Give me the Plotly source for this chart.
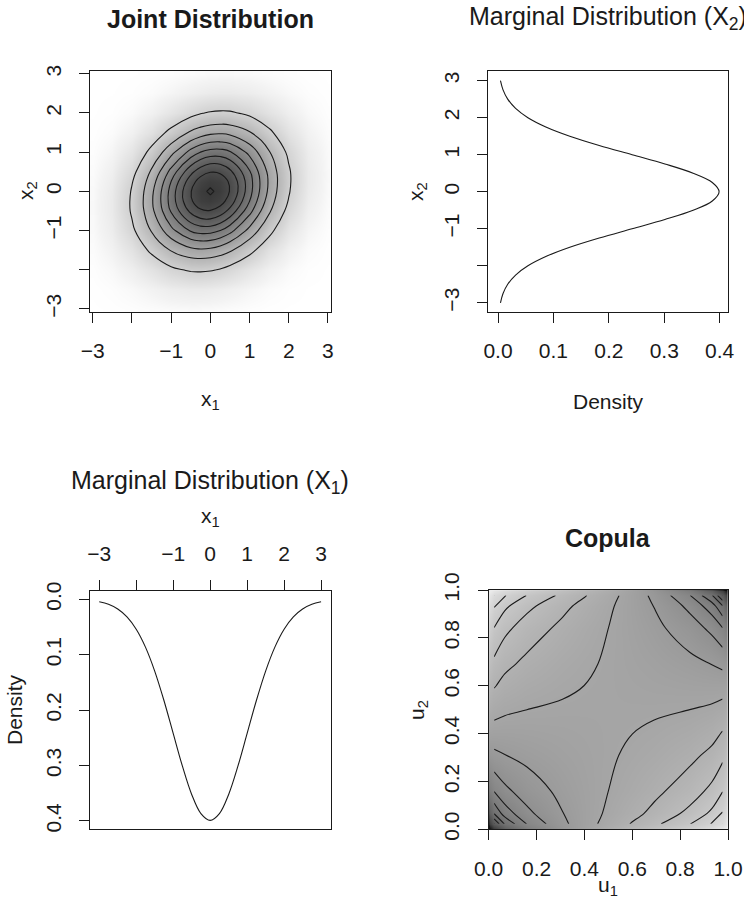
import numpy as np
import plotly.graph_objects as go

# ---------------- data ----------------
# grid of x values on which the joint density is tabulated (finer near the mode)
grid = [-3.0, -2.5, -2.0, -1.5, -1.0, -0.5, -0.25, 0.0, 0.25, 0.5, 1.0, 1.5, 2.0, 2.5, 3.0]

# joint density f(x1, x2); rows = x2 (grid order), columns = x1 (grid order)
joint_density = [
    [0.00006426, 0.0002084, 0.0005233, 0.001018, 0.001532, 0.001786, 0.001752, 0.001612, 0.001392, 0.001127, 0.0006101, 0.0002557, 0.00008299, 0.00002086, 0.000004059],
    [0.0002084, 0.0007022, 0.001832, 0.003702, 0.005792, 0.007017, 0.007017, 0.006582, 0.005792, 0.004781, 0.002689, 0.001171, 0.0003950, 0.0001031, 0.00002086],
    [0.0005233, 0.001832, 0.004968, 0.01043, 0.01696, 0.02135, 0.02176, 0.02081, 0.01866, 0.01570, 0.009178, 0.004154, 0.001456, 0.0003950, 0.00008299],
    [0.001018, 0.003702, 0.01043, 0.02275, 0.03844, 0.05028, 0.05225, 0.05093, 0.04657, 0.03994, 0.02426, 0.01141, 0.004154, 0.001171, 0.0002557],
    [0.001532, 0.005792, 0.01696, 0.03844, 0.06748, 0.09171, 0.09714, 0.09652, 0.08997, 0.07866, 0.04964, 0.02426, 0.009178, 0.002689, 0.0006101],
    [0.001786, 0.007017, 0.02135, 0.05028, 0.09171, 0.1295, 0.1399, 0.1417, 0.1346, 0.1200, 0.07866, 0.03994, 0.01570, 0.004781, 0.001127],
    [0.001752, 0.007017, 0.02176, 0.05225, 0.09714, 0.1399, 0.1525, 0.1559, 0.1496, 0.1346, 0.08997, 0.04657, 0.01866, 0.005792, 0.001392],
    [0.001612, 0.006582, 0.02081, 0.05093, 0.09652, 0.1417, 0.1559, 0.1610, 0.1559, 0.1417, 0.09652, 0.05093, 0.02081, 0.006582, 0.001612],
    [0.001392, 0.005792, 0.01866, 0.04657, 0.08997, 0.1346, 0.1496, 0.1559, 0.1525, 0.1399, 0.09714, 0.05225, 0.02176, 0.007017, 0.001752],
    [0.001127, 0.004781, 0.01570, 0.03994, 0.07866, 0.1200, 0.1346, 0.1417, 0.1399, 0.1295, 0.09171, 0.05028, 0.02135, 0.007017, 0.001786],
    [0.0006101, 0.002689, 0.009178, 0.02426, 0.04964, 0.07866, 0.08997, 0.09652, 0.09714, 0.09171, 0.06748, 0.03844, 0.01696, 0.005792, 0.001532],
    [0.0002557, 0.001171, 0.004154, 0.01141, 0.02426, 0.03994, 0.04657, 0.05093, 0.05225, 0.05028, 0.03844, 0.02275, 0.01043, 0.003702, 0.001018],
    [0.00008299, 0.0003950, 0.001456, 0.004154, 0.009178, 0.01570, 0.01866, 0.02081, 0.02176, 0.02135, 0.01696, 0.01043, 0.004968, 0.001832, 0.0005233],
    [0.00002086, 0.0001031, 0.0003950, 0.001171, 0.002689, 0.004781, 0.005792, 0.006582, 0.007017, 0.007017, 0.005792, 0.003702, 0.001832, 0.0007022, 0.0002084],
    [0.000004059, 0.00002086, 0.00008299, 0.0002557, 0.0006101, 0.001127, 0.001392, 0.001612, 0.001752, 0.001786, 0.001532, 0.001018, 0.0005233, 0.0002084, 0.00006426],
]

# marginal density curve (same for X1 and X2), quarter-unit steps
marg_x = [-3.0, -2.75, -2.5, -2.25, -2.0, -1.75, -1.5, -1.25, -1.0, -0.75, -0.5, -0.25,
          0.0, 0.25, 0.5, 0.75, 1.0, 1.25, 1.5, 1.75, 2.0, 2.25, 2.5, 2.75, 3.0]
marg_density = [0.0044318, 0.0090936, 0.017528, 0.031740, 0.053991, 0.086277, 0.12952,
                0.18265, 0.24197, 0.30114, 0.35207, 0.38667, 0.39894, 0.38667, 0.35207,
                0.30114, 0.24197, 0.18265, 0.12952, 0.086277, 0.053991, 0.031740,
                0.017528, 0.0090936, 0.0044318]

# u = F(x) at the grid points (probability-integral transform)
grid_u = [0.00135, 0.00621, 0.02275, 0.06681, 0.15866, 0.30854, 0.40129, 0.5,
          0.59871, 0.69146, 0.84134, 0.93319, 0.97725, 0.99379, 0.99865]

joint_levels = [0.0195, 0.0371, 0.0547, 0.0723, 0.0899, 0.1075, 0.1251, 0.1427, 0.1603]
copula_levels = [0.5, 0.6, 0.7, 0.8, 0.9, 1.0, 1.1, 1.2, 1.3, 1.4, 1.5, 1.6, 1.7]

# tick labels (the "-2" position carries a tick but no label, as in the original)
xy_tickvals = [-3, -1, 0, 1, 2, 3]
xy_ticktext = ["\u22123", "\u22121", "0", "1", "2", "3"]
xy_unlabelled = [-2]
dens_tickvals = [0.0, 0.1, 0.2, 0.3, 0.4]
dens_ticktext = ["0.0", "0.1", "0.2", "0.3", "0.4"]
u_tickvals = [0.0, 0.2, 0.4, 0.6, 0.8, 1.0]
u_ticktext = ["0.0", "0.2", "0.4", "0.6", "0.8", "1.0"]

# ---------------- derived tables ----------------
J = np.array(joint_density)
m_grid = np.array([marg_density[marg_x.index(g)] for g in grid])
cop = J / np.outer(m_grid, m_grid)              # copula density on the u-grid
radius_like = np.sqrt(np.log(J.max() / J))      # monotone transform for smooth contour lines
inner = slice(2, 13)                            # copula contours drawn on the inner grid only
u_in = grid_u[inner]
log_cop_in = np.log(cop[inner, inner])

W, H = 744, 908
FONT = "Liberation Sans, Arial, Helvetica, sans-serif"
INK = "#1a1a1a"

# grey ramp for the joint density image (white -> dark grey, slightly bowed)
joint_scale = [[0.0, "rgb(255,255,255)"], [0.02, "rgb(243,243,243)"],
               [0.05, "rgb(231,231,231)"], [0.1, "rgb(215,215,215)"],
               [0.2, "rgb(190,190,190)"], [0.35, "rgb(159,159,159)"],
               [0.5, "rgb(132,132,132)"], [0.7, "rgb(100,100,100)"],
               [0.85, "rgb(78,78,78)"], [1.0, "rgb(55,55,55)"]]

def px(x):
    return x / W

def py(y):
    return 1 - y / H

fig = go.Figure()

# ---- panel 1: joint distribution ----
fig.add_trace(go.Heatmap(x=grid, y=grid, z=joint_density, zsmooth="best",
                         colorscale=joint_scale,
                         zmin=0, zmax=0.161, showscale=False, hoverinfo="skip",
                         xaxis="x", yaxis="y"))
for k, L in enumerate(joint_levels):
    s = float(np.sqrt(np.log(J.max() / L)))
    fig.add_trace(go.Contour(x=grid, y=grid, z=radius_like,
                             contours=dict(start=s, end=s, size=1, coloring="none"),
                             line=dict(color=INK, width=1.1,
                                       smoothing=0 if k == len(joint_levels) - 1 else 1.3),
                             showscale=False, hoverinfo="skip", xaxis="x", yaxis="y"))

# ---- panel 2: marginal X2 ----
fig.add_trace(go.Scatter(x=marg_density, y=marg_x, mode="lines",
                         line=dict(color=INK, width=1.1, shape="spline"),
                         hoverinfo="skip", xaxis="x2", yaxis="y2"))

# ---- panel 3: marginal X1 ----
fig.add_trace(go.Scatter(x=marg_x, y=marg_density, mode="lines",
                         line=dict(color=INK, width=1.1, shape="spline"),
                         hoverinfo="skip", xaxis="x3", yaxis="y3"))

# ---- panel 4: copula ----
fig.add_trace(go.Heatmap(x=grid_u, y=grid_u, z=cop, zsmooth="best",
                         colorscale=[[0, "rgb(236,236,236)"], [1, "rgb(15,15,15)"]],
                         zmin=0.35, zmax=2.4, showscale=False, hoverinfo="skip",
                         xaxis="x4", yaxis="y4"))
for L in copula_levels:
    s = float(np.log(L))
    fig.add_trace(go.Contour(x=u_in, y=u_in, z=log_cop_in,
                             contours=dict(start=s, end=s, size=1, coloring="none"),
                             line=dict(color=INK, width=1.1, smoothing=1.0),
                             showscale=False, hoverinfo="skip", xaxis="x4", yaxis="y4"))

def axis(domain, rng, tickvals, ticktext, anchor, side=None, angle=0, extra=None):
    d = dict(domain=domain, range=rng, tickmode="array", tickvals=tickvals,
             ticktext=ticktext, ticks="outside", ticklen=10, tickwidth=1,
             tickcolor=INK, showline=True, linecolor=INK, linewidth=1, mirror=True,
             showgrid=False, zeroline=False, anchor=anchor, tickangle=angle,
             automargin=False, ticklabelstandoff=10,
             tickfont=dict(family=FONT, size=21, color=INK), fixedrange=True)
    if extra:
        d["minor"] = dict(tickmode="array", tickvals=extra, ticks="outside",
                          ticklen=10, tickwidth=1, tickcolor=INK, showgrid=False)
    if side:
        d["side"] = side
    return d

# pixel boxes of the four panels
b1 = (90, 330.7, 71, 311.7)
b2 = (488.3, 728, 71, 311.7)
b3 = (90, 330.7, 590.7, 829.3)
b4 = (488.7, 728, 590, 829.3)

def xd(b):
    return [px(b[0]), px(b[1])]

def yd(b):
    return [py(b[3]), py(b[2])]

fig.update_layout(
    width=W, height=H, margin=dict(l=0, r=0, t=0, b=0, autoexpand=False),
    paper_bgcolor="white", plot_bgcolor="white", showlegend=False,
    font=dict(family=FONT, color=INK),
    xaxis=axis(xd(b1), [-3.07, 3.07], xy_tickvals, xy_ticktext, "y", extra=xy_unlabelled),
    yaxis=axis(yd(b1), [-3.07, 3.07], xy_tickvals, xy_ticktext, "x", angle=-90, extra=xy_unlabelled),
    xaxis2=axis(xd(b2), [-0.0175, 0.415], dens_tickvals, dens_ticktext, "y2"),
    yaxis2=axis(yd(b2), [-3.24, 3.26], xy_tickvals, xy_ticktext, "x2", angle=-90, extra=xy_unlabelled),
    xaxis3=axis(xd(b3), [-3.25, 3.26], xy_tickvals, xy_ticktext, "y3", side="top", extra=xy_unlabelled),
    yaxis3=axis(yd(b3), [0.415, -0.0155], dens_tickvals, dens_ticktext, "x3", angle=-90),
    xaxis4=axis(xd(b4), [0, 1], u_tickvals, u_ticktext, "y4"),
    yaxis4=axis(yd(b4), [0, 1], u_tickvals, u_ticktext, "x4", angle=-90),
)

def ann(text, x, y, size, bold=False, angle=0):
    t = f"<b>{text}</b>" if bold else text
    return dict(text=t, x=px(x), y=py(y), xref="paper", yref="paper",
                xanchor="center", yanchor="middle", showarrow=False,
                textangle=angle, font=dict(family=FONT, size=size, color=INK))

fig.update_layout(annotations=[
    ann("Joint Distribution", 210, 19, 25, bold=True),
    ann("x<sub>1</sub>", 210, 400, 21),
    ann("x<sub>2</sub>", 27, 191, 21, angle=-90),
    ann("Marginal Distribution (X<sub>2</sub>)", 608, 18, 25),
    ann("Density", 608, 401, 21),
    ann("x<sub>2</sub>", 417, 191, 21, angle=-90),
    ann("Marginal Distribution (X<sub>1</sub>)", 210, 482, 25),
    ann("x<sub>1</sub>", 210, 517, 21),
    ann("Density", 14, 710, 21, angle=-90),
    ann("Copula", 608, 538, 25, bold=True),
    ann("u<sub>1</sub>", 608, 886, 21),
    ann("u<sub>2</sub>", 418, 710, 21, angle=-90),
])

fig.write_html("out.html", config={"displayModeBar": False, "staticPlot": True},
               post_script="document.documentElement.style.margin='0';"
                           "document.body.style.margin='0';"
                           "document.body.style.padding='0';"
                           "document.body.style.overflow='hidden';")
